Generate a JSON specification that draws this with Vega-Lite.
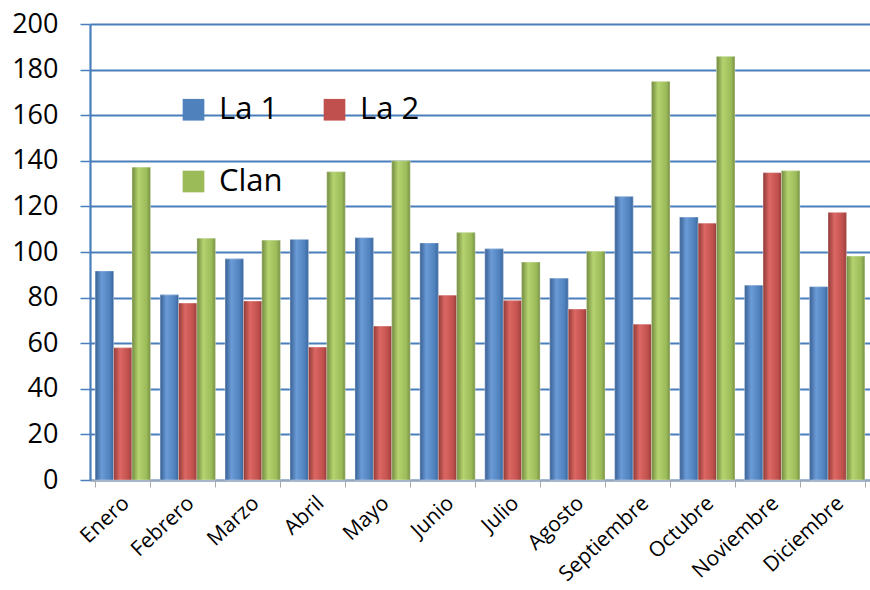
{
  "$schema": "https://vega.github.io/schema/vega-lite/v6.json",
  "width": 780,
  "height": 456,
  "autosize": {"type": "none"},
  "padding": {"left": 90, "top": 24, "right": 0, "bottom": 110},
  "background": "white",
  "config": {"font": "Open Sans", "view": {"stroke": null}},
  "data": {
    "values": [
      {"mes": "Enero", "canal": "La 1", "valor": 91.7},
      {"mes": "Enero", "canal": "La 2", "valor": 58},
      {"mes": "Enero", "canal": "Clan", "valor": 137.2},
      {"mes": "Febrero", "canal": "La 1", "valor": 81.2},
      {"mes": "Febrero", "canal": "La 2", "valor": 77.6},
      {"mes": "Febrero", "canal": "Clan", "valor": 106},
      {"mes": "Marzo", "canal": "La 1", "valor": 97},
      {"mes": "Marzo", "canal": "La 2", "valor": 78.5},
      {"mes": "Marzo", "canal": "Clan", "valor": 105.2},
      {"mes": "Abril", "canal": "La 1", "valor": 105.5},
      {"mes": "Abril", "canal": "La 2", "valor": 58.3},
      {"mes": "Abril", "canal": "Clan", "valor": 135.2},
      {"mes": "Mayo", "canal": "La 1", "valor": 106.3},
      {"mes": "Mayo", "canal": "La 2", "valor": 67.5},
      {"mes": "Mayo", "canal": "Clan", "valor": 140},
      {"mes": "Junio", "canal": "La 1", "valor": 104},
      {"mes": "Junio", "canal": "La 2", "valor": 81},
      {"mes": "Junio", "canal": "Clan", "valor": 108.5},
      {"mes": "Julio", "canal": "La 1", "valor": 101.4},
      {"mes": "Julio", "canal": "La 2", "valor": 78.7},
      {"mes": "Julio", "canal": "Clan", "valor": 95.6},
      {"mes": "Agosto", "canal": "La 1", "valor": 88.5},
      {"mes": "Agosto", "canal": "La 2", "valor": 75},
      {"mes": "Agosto", "canal": "Clan", "valor": 100.3},
      {"mes": "Septiembre", "canal": "La 1", "valor": 124.3},
      {"mes": "Septiembre", "canal": "La 2", "valor": 68.3},
      {"mes": "Septiembre", "canal": "Clan", "valor": 174.8},
      {"mes": "Octubre", "canal": "La 1", "valor": 115.3},
      {"mes": "Octubre", "canal": "La 2", "valor": 112.6},
      {"mes": "Octubre", "canal": "Clan", "valor": 185.8},
      {"mes": "Noviembre", "canal": "La 1", "valor": 85.4},
      {"mes": "Noviembre", "canal": "La 2", "valor": 134.8},
      {"mes": "Noviembre", "canal": "Clan", "valor": 135.6},
      {"mes": "Diciembre", "canal": "La 1", "valor": 84.8},
      {"mes": "Diciembre", "canal": "La 2", "valor": 117.3},
      {"mes": "Diciembre", "canal": "Clan", "valor": 98.2}
    ]
  },
  "encoding": {
    "x": {
      "field": "mes",
      "type": "nominal",
      "sort": null,
      "scale": {"paddingInner": 0.15, "paddingOuter": 0.08},
      "axis": {
        "title": null,
        "labelAngle": -43,
        "labelAlign": "right",
        "labelBaseline": "middle",
        "labelFontSize": 21,
        "labelColor": "#000000",
        "labelPadding": 13,
        "labelOverlap": false,
        "domainColor": "#9aa6b8",
        "domainWidth": 1.5,
        "tickColor": "#a8a8a8",
        "tickBand": "extent",
        "tickSize": 7,
        "labelOffset": 3
      }
    },
    "xOffset": {"field": "canal", "type": "nominal", "sort": ["La 1", "La 2", "Clan"], "scale": {"domain": ["La 1", "La 2", "Clan"], "paddingInner": 0, "paddingOuter": 0}},
    "y": {
      "field": "valor",
      "type": "quantitative",
      "scale": {"domain": [0, 200]},
      "axis": {
        "title": null,
        "values": [0, 20, 40, 60, 80, 100, 120, 140, 160, 180, 200],
        "labelOverlap": false,
        "labelFlush": false,
        "labelFontSize": 27,
        "labelColor": "#000000",
        "labelPadding": 22,
        "grid": true,
        "gridColor": "#4a7ebb",
        "gridWidth": 2.2,
        "domainColor": "#4a7ebb",
        "domainWidth": 2.2,
        "tickColor": "#4a7ebb",
        "tickSize": 10,
        "tickWidth": 1.5
      }
    }
  },
  "layer": [
    {
      "mark": {"type": "bar"},
      "encoding": {
        "color": {
          "field": "canal",
          "type": "nominal",
          "sort": ["La 1", "La 2", "Clan"],
          "scale": {"domain": ["La 1", "La 2", "Clan"], "range": ["#4f81bd", "#c0504d", "#9bbb59"]},
          "legend": {
            "title": null,
            "orient": "none",
            "legendX": 88,
            "legendY": 70,
            "columns": 2,
            "direction": "horizontal",
            "symbolType": "square",
            "symbolSize": 470,
            "symbolStrokeWidth": 0,
            "labelFontSize": 31,
            "labelColor": "#000000",
            "labelOffset": 10,
            "columnPadding": 36,
            "rowPadding": 40
          }
        }
      }
    },
    {
      "transform": [{"filter": "datum.canal === 'La 1'"}],
      "mark": {"type": "bar", "fill": {"gradient": "linear", "x1": 0, "x2": 1, "y1": 0, "y2": 0, "stops": [{"offset": 0, "color": "#375f92"}, {"offset": 0.35, "color": "#6b9bd7"}, {"offset": 0.8, "color": "#4f81bd"}, {"offset": 1, "color": "#3a659c"}]}, "stroke": "#ffffff", "strokeWidth": 0.6, "strokeOpacity": 0.6}
    },
    {
      "transform": [{"filter": "datum.canal === 'La 2'"}],
      "mark": {"type": "bar", "fill": {"gradient": "linear", "x1": 0, "x2": 1, "y1": 0, "y2": 0, "stops": [{"offset": 0, "color": "#8f3a37"}, {"offset": 0.35, "color": "#dc6763"}, {"offset": 0.8, "color": "#c0504d"}, {"offset": 1, "color": "#943d3a"}]}, "stroke": "#ffffff", "strokeWidth": 0.6, "strokeOpacity": 0.6}
    },
    {
      "transform": [{"filter": "datum.canal === 'Clan'"}],
      "mark": {"type": "bar", "fill": {"gradient": "linear", "x1": 0, "x2": 1, "y1": 0, "y2": 0, "stops": [{"offset": 0, "color": "#728a3f"}, {"offset": 0.35, "color": "#b5d36f"}, {"offset": 0.8, "color": "#9bbb59"}, {"offset": 1, "color": "#768f43"}]}, "stroke": "#ffffff", "strokeWidth": 0.6, "strokeOpacity": 0.6}
    }
  ]
}
